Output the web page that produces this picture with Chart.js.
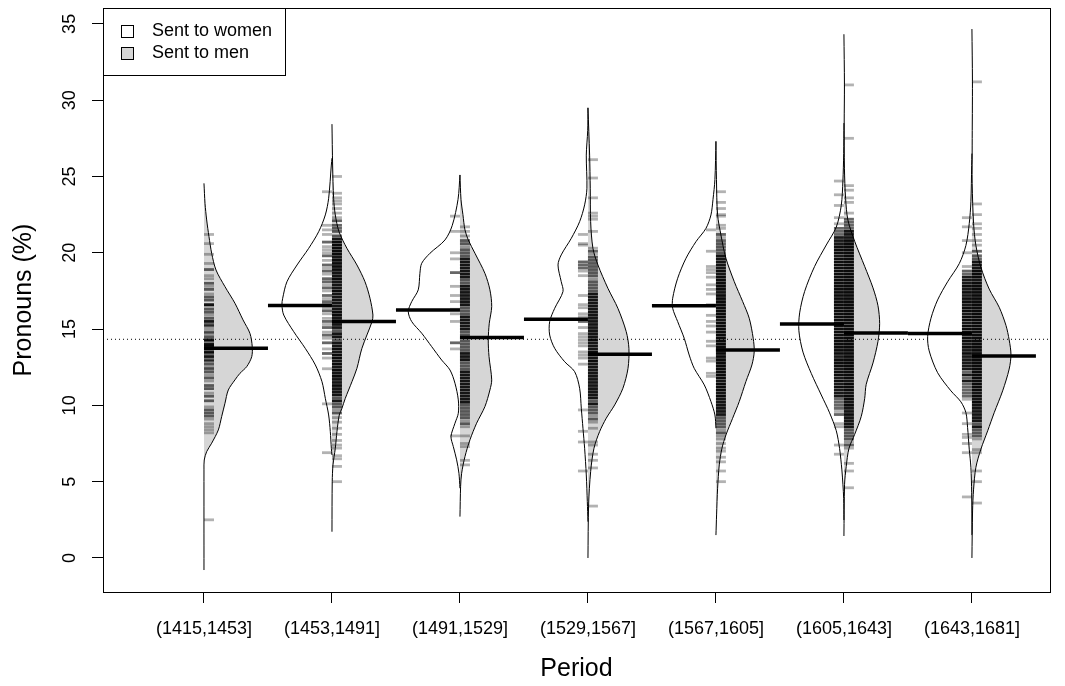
<!DOCTYPE html>
<html><head><meta charset="utf-8">
<script src="https://cdn.jsdelivr.net/npm/chart.js"></script>
<style>html,body{margin:0;padding:0;background:#fff;}canvas{display:block;}</style>
</head><body>
<canvas id="c" width="1065" height="686"></canvas>
<script>
// ---------- data ----------
const periods = ["(1415,1453]","(1453,1491]","(1491,1529]","(1529,1567]","(1567,1605]","(1605,1643]","(1643,1681]"];
const yTicks = [0,5,10,15,20,25,30,35];
const womenMeans = [null,16.55,16.25,15.64,16.53,15.33,14.71];
const menMeans = [13.74,15.5,14.44,13.35,13.63,14.74,13.24];
const overallMean = 14.33;

// density outlines: value (y) and half-width (in category units)
const womenY1 = [];
const womenW1 = [];
const menY1 = [24.55,23.24,22.15,21.06,19.97,18.87,17.78,16.69,15.60,14.72,13.85,13.19,12.54,12.10,11.67,11.01,10.14,9.26,8.39,7.52,6.97,6.42,5.77,-0.79];
const menW1 = [0,.008,.021,.039,.060,.094,.164,.242,.305,.359,.377,.373,.334,.281,.242,.190,.164,.138,.112,.060,.021,.002,0,0];

const womenY2 = [26.2,25.75,23.57,22.48,21.38,20.29,19.2,18.1,17.02,16.58,15.92,14.83,13.74,12.65,11.55,10.46,9.37,8.28,7.19,6.75];
const womenW2 = [0,.005,.026,.052,.104,.182,.273,.352,.385,.391,.377,.299,.209,.130,.078,.052,.026,.013,.005,0];
const menY2 = [28.43,25.75,23.57,22.48,21.38,20.29,19.2,18.1,17.02,15.92,15.49,13.74,12.43,11.55,10.46,9.81,9.37,8.28,7.19,6.1,5.0,1.72];
const menW2 = [0,.005,.013,.026,.055,.117,.195,.258,.297,.320,.313,.234,.195,.156,.104,.078,.057,.039,.026,.008,.002,0];

const womenY3 = [25.1,23.5,21.8,20.84,19.97,19.31,18.65,17.57,16.80,16.15,15.49,14.73,13.85,12.97,12.32,11.45,10.36,9.48,8.83,7.96,7.30,6.43,5.55,4.57];
const womenW3 = [0,.015,.06,.117,.234,.299,.313,.326,.377,.404,.377,.299,.221,.143,.078,.039,.013,.013,.039,.070,.052,.026,.008,0];
const menY3 = [25.1,23.5,22.5,21.5,20.84,19.97,18.65,17.57,16.47,15.38,14.29,13.2,11.67,11.01,9.92,8.83,7.74,6.64,5.55,4.68,2.71];
const menW3 = [0,.008,.023,.039,.065,.117,.195,.234,.248,.229,.221,.227,.248,.234,.195,.130,.078,.039,.013,.005,0];

const womenY4 = [29.5,28.0,26.4,24.23,23.14,22.04,20.95,19.86,19.2,18.11,17.46,16.36,15.49,14.61,13.74,12.86,12.21,11.12,9.81,8.5,7.19,5.44,3.69,2.38];
const womenW4 = [0,.002,.013,.008,.026,.065,.130,.209,.234,.209,.195,.260,.299,.299,.260,.182,.104,.065,.052,.039,.026,.013,.005,0];
const menY4 = [29.5,26.4,24.23,22.04,20.29,19.2,17.67,16.36,14.83,13.74,12.43,11.12,10.03,9.16,8.28,7.19,5.66,3.47,0.0];
const menW4 = [0,.013,.018,.021,.039,.078,.156,.234,.299,.320,.313,.273,.209,.143,.091,.047,.021,.005,0];

const womenY5 = [27.3,24.8,23.5,22.48,21.6,20.73,19.64,18.33,17.02,16.36,15.49,14.4,13.3,12.43,11.34,10.25,9.37,8.5];
const womenW5 = [0,.008,.023,.039,.078,.156,.234,.299,.338,.338,.299,.248,.209,.170,.091,.039,.008,0];
const menY5 = [27.3,24.8,22.48,21.17,19.64,18.11,16.8,15.71,14.4,13.52,12.65,11.56,10.25,9.15,8.06,7.19,6.1,4.57,2.82,1.5];
const menW5 = [0,.004,.013,.039,.078,.143,.209,.260,.291,.299,.281,.234,.182,.130,.078,.047,.026,.013,.005,0];

const womenY6 = [28.5,26.5,24.72,23.09,21.68,20.51,19.11,17.47,16.06,14.89,13.49,12.09,10.68,9.51,8.34,7.17,5.77,4.83,3.9,2.49];
const womenW6 = [0,.002,.008,.021,.060,.138,.229,.307,.346,.352,.320,.255,.177,.112,.060,.034,.016,.008,.002,0];
const menY6 = [34.32,31.0,28.5,25.5,23.56,22.15,20.75,19.11,17.7,16.53,15.36,14.19,12.78,11.38,10.44,9.27,8.10,7.17,6.0,4.83,1.44];
const menW6 = [0,.004,.002,.004,.013,.031,.084,.162,.227,.266,.279,.266,.227,.174,.162,.135,.084,.039,.018,.005,0];

const womenY7 = [26.5,25.72,23.34,21.91,20.48,19.29,18.1,16.91,15.71,14.52,13.57,12.14,10.95,10.23,9.52,8.56,7.13,5.94,4.27,1.5];
const womenW7 = [0,.002,.008,.021,.047,.099,.190,.268,.320,.346,.334,.268,.164,.086,.047,.034,.021,.008,.002,0];
const menY7 = [34.66,31.25,27.0,24.53,21.91,20.48,19.05,17.62,16.43,15.24,14.29,13.33,12.38,10.95,9.52,8.33,7.13,5.94,4.51,3.08,0.0];
const menW7 = [0,.004,.002,.002,.013,.031,.070,.135,.213,.266,.291,.305,.291,.240,.174,.123,.070,.031,.013,.005,0];

// rug (bean) lines: [value, number of overlapping letters]
const womenRug1 = [];
const menRug1 = [[21.2,1],[20.6,1],[19.9,1],[19.3,1],[18.9,2],[18.5,1],[18.3,1],[18.0,2],[17.8,1],[17.6,2],[17.3,1],[17.1,2],[16.9,2],[16.6,3],[16.5,1],[16.3,2],[16.1,2],[15.9,1],[15.7,2],[15.5,3],[15.3,2],[15.2,2],[15.0,1],[14.8,2],[14.7,1],[14.5,2],[14.3,3],[14.2,2],[14.0,3],[13.9,3],[13.7,3],[13.5,3],[13.4,2],[13.2,3],[13.0,2],[12.9,2],[12.7,2],[12.5,1],[12.4,2],[12.2,2],[12.0,1],[11.8,2],[11.6,1],[11.3,2],[11.1,2],[10.8,1],[10.6,2],[10.3,2],[9.9,1],[9.7,2],[9.5,2],[9.3,2],[9.1,1],[8.8,1],[8.6,1],[8.4,1],[8.2,1],[2.5,1]];

const womenRug2 = [[24.0,1],[21.8,1],[21.5,1],[21.2,1],[20.7,2],[20.4,1],[20.2,1],[20.0,1],[19.8,2],[19.5,1],[19.2,2],[19.0,1],[18.8,2],[18.6,1],[18.3,2],[18.1,2],[17.9,1],[17.7,2],[17.5,1],[17.2,2],[17.0,1],[16.8,2],[16.6,2],[16.4,1],[16.2,2],[16.0,1],[15.7,1],[15.5,2],[15.3,1],[15.1,2],[14.8,1],[14.6,2],[14.4,1],[14.1,2],[13.7,1],[13.4,2],[13.1,1],[12.4,1],[10.1,1],[6.9,1]];
const menRug2 = [[25.0,1],[23.9,1],[23.6,1],[23.4,1],[23.2,1],[22.9,1],[22.6,1],[22.3,1],[22.1,2],[21.8,2],[21.6,2],[21.4,2],[21.1,2],[20.9,3],[20.7,4],[20.5,4],[20.3,4],[20.1,4],[19.9,4],[19.7,3],[19.5,4],[19.3,4],[19.1,4],[18.9,4],[18.7,3],[18.5,3],[18.3,4],[18.1,3],[17.9,3],[17.7,3],[17.5,4],[17.3,3],[17.1,3],[16.9,3],[16.7,3],[16.5,3],[16.3,3],[16.1,4],[15.9,4],[15.7,3],[15.5,4],[15.3,3],[15.1,3],[14.9,2],[14.7,3],[14.5,3],[14.3,2],[14.1,3],[13.9,3],[13.7,4],[13.5,3],[13.3,4],[13.1,4],[12.9,3],[12.7,4],[12.5,3],[12.3,4],[12.1,3],[11.9,4],[11.7,3],[11.5,3],[11.3,4],[11.1,3],[10.9,3],[10.7,3],[10.5,2],[10.3,3],[10.1,2],[9.9,2],[9.7,1],[9.5,2],[9.2,1],[8.9,1],[8.5,1],[8.1,1],[7.7,1],[7.4,1],[7.2,1],[6.7,1],[6.5,1],[6.0,1],[5.0,1]];

const womenRug3 = [[22.4,1],[21.4,1],[20.0,1],[19.6,1],[18.7,2],[17.8,1],[17.2,1],[16.8,1],[16.3,1],[16.0,1],[15.5,1],[14.1,2],[13.7,1],[8.0,1]];
const menRug3 = [[21.7,1],[21.4,1],[21.1,1],[20.8,2],[20.6,2],[20.4,1],[20.2,2],[20.0,2],[19.8,2],[19.6,3],[19.4,3],[19.2,3],[19.0,3],[18.8,3],[18.6,3],[18.4,3],[18.2,2],[18.0,2],[17.8,3],[17.6,3],[17.4,3],[17.2,3],[17.0,3],[16.8,3],[16.6,3],[16.4,2],[16.2,2],[16.0,2],[15.8,3],[15.6,3],[15.4,3],[15.2,3],[15.0,3],[14.8,2],[14.6,2],[14.4,1],[14.2,2],[14.0,2],[13.8,2],[13.6,2],[13.4,3],[13.2,3],[13.0,3],[12.8,2],[12.6,2],[12.4,2],[12.2,3],[12.0,3],[11.8,3],[11.6,3],[11.4,3],[11.2,3],[11.0,3],[10.8,3],[10.6,3],[10.4,3],[10.2,3],[10.0,2],[9.8,2],[9.6,2],[9.4,2],[9.2,2],[9.0,1],[8.8,2],[8.6,1],[8.0,1],[7.5,1],[7.3,1],[6.4,1],[6.1,1]];

const womenRug4 = [[21.2,1],[20.6,1],[20.5,1],[19.4,2],[19.2,2],[19.0,2],[18.8,1],[18.5,1],[17.2,1],[16.6,1],[16.4,1],[16.0,1],[15.8,1],[15.5,2],[15.1,1],[14.7,1],[14.5,1],[14.3,1],[14.1,1],[13.9,1],[13.5,1],[13.3,1],[13.1,1],[12.7,1],[9.7,1],[8.3,1],[7.6,1],[5.7,1]];
const menRug4 = [[26.1,1],[24.9,1],[23.6,1],[22.6,1],[22.4,1],[22.2,1],[21.4,1],[20.3,1],[20.1,2],[19.9,1],[19.7,2],[19.5,2],[19.3,2],[19.1,2],[18.9,2],[18.7,2],[18.5,2],[18.3,1],[18.1,2],[17.9,2],[17.7,2],[17.5,2],[17.3,3],[17.1,3],[16.9,3],[16.7,3],[16.5,3],[16.3,3],[16.1,3],[15.9,3],[15.7,3],[15.5,3],[15.3,3],[15.1,3],[14.9,3],[14.7,3],[14.5,3],[14.3,4],[14.1,3],[13.9,3],[13.7,3],[13.5,4],[13.3,3],[13.1,3],[12.9,4],[12.7,3],[12.5,3],[12.3,3],[12.1,3],[11.9,3],[11.7,3],[11.5,3],[11.3,3],[11.1,3],[10.9,3],[10.7,3],[10.5,3],[10.3,2],[10.1,3],[9.9,2],[9.7,2],[9.5,2],[9.3,1],[9.1,2],[8.9,1],[8.5,1],[7.6,1],[7.4,1],[6.8,1],[6.4,1],[5.9,1],[3.4,1]];

const womenRug5 = [[21.5,1],[20.1,1],[19.1,1],[18.9,1],[18.7,1],[18.4,1],[17.9,1],[17.6,1],[17.3,1],[16.6,1],[15.9,1],[15.5,1],[15.2,1],[14.8,1],[14.2,1],[13.9,1],[13.1,1],[12.9,1],[12.1,1],[11.9,1]];
const menRug5 = [[24.0,1],[23.3,1],[22.9,1],[22.5,1],[22.4,1],[21.8,1],[21.6,1],[21.2,2],[21.0,1],[20.8,2],[20.6,2],[20.4,2],[20.2,2],[20.0,2],[19.8,3],[19.6,3],[19.4,3],[19.2,3],[19.0,3],[18.8,4],[18.6,3],[18.4,4],[18.2,4],[18.0,4],[17.8,4],[17.6,4],[17.4,3],[17.2,4],[17.0,4],[16.8,4],[16.6,5],[16.4,4],[16.2,4],[16.0,4],[15.8,4],[15.6,3],[15.4,4],[15.2,4],[15.0,4],[14.8,5],[14.6,4],[14.4,4],[14.2,4],[14.0,4],[13.8,5],[13.6,4],[13.4,4],[13.2,4],[13.0,5],[12.8,4],[12.6,4],[12.4,4],[12.2,4],[12.0,4],[11.8,4],[11.6,3],[11.4,4],[11.2,4],[11.0,4],[10.8,3],[10.6,4],[10.4,3],[10.2,3],[10.0,3],[9.8,3],[9.6,3],[9.4,3],[9.2,2],[9.0,2],[8.8,2],[8.6,2],[8.4,1],[8.2,2],[8.0,1],[7.8,1],[7.5,1],[7.2,1],[7.0,1],[6.6,1],[6.3,1],[5.7,1],[5.0,1]];

const womenRug6 = [[24.7,1],[23.8,1],[23.1,1],[22.3,1],[21.9,1],[21.6,2],[21.4,2],[21.2,2],[21.0,3],[20.8,3],[20.6,3],[20.4,4],[20.2,4],[20.0,4],[19.8,3],[19.6,4],[19.4,4],[19.2,4],[19.0,4],[18.8,5],[18.6,4],[18.4,4],[18.2,4],[18.0,5],[17.8,4],[17.6,4],[17.4,4],[17.2,5],[17.0,4],[16.8,4],[16.6,5],[16.4,4],[16.2,4],[16.0,5],[15.8,4],[15.6,4],[15.4,5],[15.2,4],[15.0,4],[14.8,4],[14.6,5],[14.4,4],[14.2,4],[14.0,4],[13.8,4],[13.6,4],[13.4,4],[13.2,3],[13.0,4],[12.8,4],[12.6,4],[12.4,3],[12.2,4],[12.0,4],[11.8,3],[11.6,4],[11.4,3],[11.2,4],[11.0,3],[10.8,3],[10.6,3],[10.4,2],[10.2,2],[10.0,2],[9.8,2],[9.6,1],[9.4,2],[8.8,1],[8.6,1],[7.4,1],[6.8,1]];
const menRug6 = [[31.0,1],[27.5,1],[24.4,1],[24.1,1],[23.6,1],[23.3,1],[22.6,1],[22.2,2],[22.0,2],[21.8,2],[21.6,2],[21.4,3],[21.2,3],[21.0,3],[20.8,4],[20.6,4],[20.4,4],[20.2,4],[20.0,4],[19.8,4],[19.6,4],[19.4,5],[19.2,4],[19.0,4],[18.8,4],[18.6,5],[18.4,4],[18.2,4],[18.0,4],[17.8,5],[17.6,4],[17.4,4],[17.2,4],[17.0,5],[16.8,4],[16.6,4],[16.4,5],[16.2,4],[16.0,4],[15.8,5],[15.6,4],[15.4,4],[15.2,5],[15.0,4],[14.8,5],[14.6,4],[14.4,4],[14.2,5],[14.0,4],[13.8,4],[13.6,5],[13.4,4],[13.2,4],[13.0,4],[12.8,4],[12.6,4],[12.4,4],[12.2,4],[12.0,4],[11.8,4],[11.6,3],[11.4,4],[11.2,4],[11.0,4],[10.8,3],[10.6,4],[10.4,4],[10.2,3],[10.0,4],[9.8,3],[9.6,3],[9.4,4],[9.2,3],[9.0,3],[8.8,3],[8.6,3],[8.4,2],[8.2,2],[8.0,2],[7.8,2],[7.6,1],[7.4,2],[7.2,1],[6.2,1],[5.7,1],[4.6,1]];

const womenRug7 = [[22.3,1],[21.7,1],[20.8,1],[20.0,1],[19.1,1],[18.8,2],[18.6,2],[18.4,3],[18.2,3],[18.0,3],[17.8,4],[17.6,3],[17.4,4],[17.2,3],[17.0,4],[16.8,4],[16.6,3],[16.4,4],[16.2,4],[16.0,3],[15.8,4],[15.6,4],[15.4,3],[15.2,4],[15.0,4],[14.8,4],[14.6,3],[14.4,4],[14.2,4],[14.0,3],[13.8,4],[13.6,3],[13.4,4],[13.2,3],[13.0,3],[12.8,3],[12.6,3],[12.4,3],[12.2,2],[12.0,3],[11.8,2],[11.6,3],[11.4,2],[11.2,2],[11.0,2],[10.8,2],[10.6,2],[10.4,1],[9.5,1],[8.8,1],[8.1,1],[7.9,1],[7.5,1],[6.9,1],[4.0,1]];
const menRug7 = [[31.2,1],[23.2,1],[22.5,1],[21.9,1],[21.6,1],[21.2,1],[20.8,1],[20.5,1],[20.1,2],[19.8,2],[19.6,2],[19.4,3],[19.2,3],[19.0,3],[18.8,4],[18.6,4],[18.4,4],[18.2,3],[18.0,4],[17.8,4],[17.6,4],[17.4,4],[17.2,4],[17.0,4],[16.8,4],[16.6,4],[16.4,4],[16.2,4],[16.0,4],[15.8,4],[15.6,5],[15.4,4],[15.2,4],[15.0,5],[14.8,4],[14.6,4],[14.4,5],[14.2,4],[14.0,4],[13.8,5],[13.6,4],[13.4,5],[13.2,5],[13.0,4],[12.8,4],[12.6,4],[12.4,4],[12.2,4],[12.0,4],[11.8,4],[11.6,4],[11.4,4],[11.2,4],[11.0,4],[10.8,3],[10.6,4],[10.4,3],[10.2,4],[10.0,3],[9.8,3],[9.6,3],[9.4,3],[9.2,3],[9.0,3],[8.8,2],[8.6,3],[8.4,2],[8.2,2],[8.0,2],[7.8,1],[7.1,1],[6.9,1],[5.7,1],[5.0,1],[3.6,1]];

// ---------- assembly ----------
const womenY = [womenY1,womenY2,womenY3,womenY4,womenY5,womenY6,womenY7];
const womenW = [womenW1,womenW2,womenW3,womenW4,womenW5,womenW6,womenW7];
const menY = [menY1,menY2,menY3,menY4,menY5,menY6,menY7];
const menW = [menW1,menW2,menW3,menW4,menW5,menW6,menW7];
const womenRug = [womenRug1,womenRug2,womenRug3,womenRug4,womenRug5,womenRug6,womenRug7];
const menRug = [menRug1,menRug2,menRug3,menRug4,menRug5,menRug6,menRug7];

const X_MIN = 0.211, X_MAX = 7.61, Y_MIN = -2.23, Y_MAX = 36.04;
const RUG_OFF = 0.039, MEAN_LEN = 0.5;
const GREY_FILL = 'rgba(0,0,0,0.16)';
const rugColor = n => 'rgba(0,0,0,' + Math.min(0.95, 0.3 * n).toFixed(2) + ')';

Chart.defaults.font.family = '"Liberation Sans", Arial, Helvetica, sans-serif';
Chart.defaults.color = '#000';

const datasets = [];
datasets.push({data:[{x:X_MIN,y:overallMean},{x:X_MAX,y:overallMean}], borderColor:'#000', borderWidth:1, borderDash:[1,3], pointRadius:0, fill:false, order:50});

for (let i = 0; i < periods.length; i++) {
  const c = i + 1;
  if (womenY[i].length) {
    datasets.push({data: womenY[i].map((y,k)=>({x:c - womenW[i][k], y})), borderColor:'#000', borderWidth:1, backgroundColor:'#fff', fill:'shape', tension:0.3, pointRadius:0, order:40});
  }
  if (menY[i].length) {
    datasets.push({data: menY[i].map((y,k)=>({x:c + menW[i][k], y})), borderColor:'#000', borderWidth:1, backgroundColor:GREY_FILL, fill:'shape', tension:0.3, pointRadius:0, order:40});
  }
  if (womenRug[i].length) {
    datasets.push({data: womenRug[i].map(r=>({x:c - RUG_OFF, y:r[0]})), showLine:false, pointStyle:'line', pointRadius:5, pointBorderWidth:2.8, pointBorderColor: womenRug[i].map(r=>rugColor(r[1])), order:30});
  }
  if (menRug[i].length) {
    datasets.push({data: menRug[i].map(r=>({x:c + RUG_OFF, y:r[0]})), showLine:false, pointStyle:'line', pointRadius:5, pointBorderWidth:2.8, pointBorderColor: menRug[i].map(r=>rugColor(r[1])), order:30});
  }
  if (womenMeans[i] !== null) {
    datasets.push({data:[{x:c - MEAN_LEN, y:womenMeans[i]},{x:c, y:womenMeans[i]}], borderColor:'#000', borderWidth:3.5, borderCapStyle:'butt', pointRadius:0, fill:false, order:20});
  }
  if (menMeans[i] !== null) {
    datasets.push({data:[{x:c, y:menMeans[i]},{x:c + MEAN_LEN, y:menMeans[i]}], borderColor:'#000', borderWidth:3.5, borderCapStyle:'butt', pointRadius:0, fill:false, order:20});
  }
}

const framePlugin = {
  id: 'frameLegend',
  afterDraw(chart) {
    const {ctx, chartArea: a} = chart;
    ctx.save();
    ctx.strokeStyle = '#000';
    ctx.lineWidth = 1;
    ctx.strokeRect(Math.round(a.left) + 0.5, Math.round(a.top) + 0.5, Math.round(a.right - a.left), Math.round(a.bottom - a.top));
    // legend box (top-left corner of the plot)
    const lx = 103.5, ly = 8.5;
    ctx.fillStyle = '#fff';
    ctx.fillRect(lx, ly, 182, 67);
    ctx.strokeRect(lx, ly, 182, 67);
    const items = [['Sent to women', '#fff', 31.5], ['Sent to men', '#d6d6d6', 53.5]];
    ctx.font = '18px "Liberation Sans", Arial, Helvetica, sans-serif';
    ctx.textBaseline = 'middle';
    ctx.textAlign = 'left';
    for (const [label, fillc, yy] of items) {
      ctx.fillStyle = fillc;
      ctx.fillRect(121.5, yy - 6, 12, 12);
      ctx.strokeRect(121.5, yy - 6, 12, 12);
      ctx.fillStyle = '#000';
      ctx.fillText(label, 152, yy);
    }
    ctx.restore();
  }
};

new Chart(document.getElementById('c'), {
  type: 'line',
  data: {datasets},
  options: {
    responsive: false,
    devicePixelRatio: 1,
    animation: false,
    events: [],
    layout: {padding: {left: 0, right: 15, top: 8, bottom: 0}},
    plugins: {legend: {display: false}, tooltip: {enabled: false}, filler: {drawTime: 'beforeDatasetDraw'}},
    scales: {
      x: {
        type: 'linear', min: X_MIN, max: X_MAX, bounds: 'data',
        afterFit(s) { s.height = 94; s.paddingLeft = 0; s.paddingRight = 0; },
        afterBuildTicks(s) { s.ticks = periods.map((p, i) => ({value: i + 1})); },
        ticks: {autoSkip: false, maxRotation: 0, minRotation: 0, padding: 15.5, color: '#000', font: {size: 18},
          callback: (v) => periods[Math.round(v) - 1]},
        grid: {drawOnChartArea: false, drawTicks: true, tickLength: 11, color: '#000', lineWidth: 1},
        border: {display: true, color: '#000', width: 1},
        title: {display: true, text: 'Period', color: '#000', font: {size: 25}, padding: {top: 0, bottom: 2}}
      },
      y: {
        type: 'linear', min: Y_MIN, max: Y_MAX, bounds: 'data',
        afterFit(s) { s.width = 103; s.paddingTop = 0; s.paddingBottom = 0; },
        afterBuildTicks(s) { s.ticks = yTicks.map(v => ({value: v})); },
        ticks: {minRotation: 90, maxRotation: 90, crossAlign: 'center', padding: 12, color: '#000', font: {size: 18},
          callback: (v) => String(v)},
        grid: {drawOnChartArea: false, drawTicks: true, tickLength: 11, color: '#000', lineWidth: 1},
        border: {display: true, color: '#000', width: 1},
        title: {display: true, text: 'Pronouns (%)', color: '#000', font: {size: 25}, padding: {top: 9, bottom: 0}}
      }
    }
  },
  plugins: [framePlugin]
});
</script>
</body></html>
